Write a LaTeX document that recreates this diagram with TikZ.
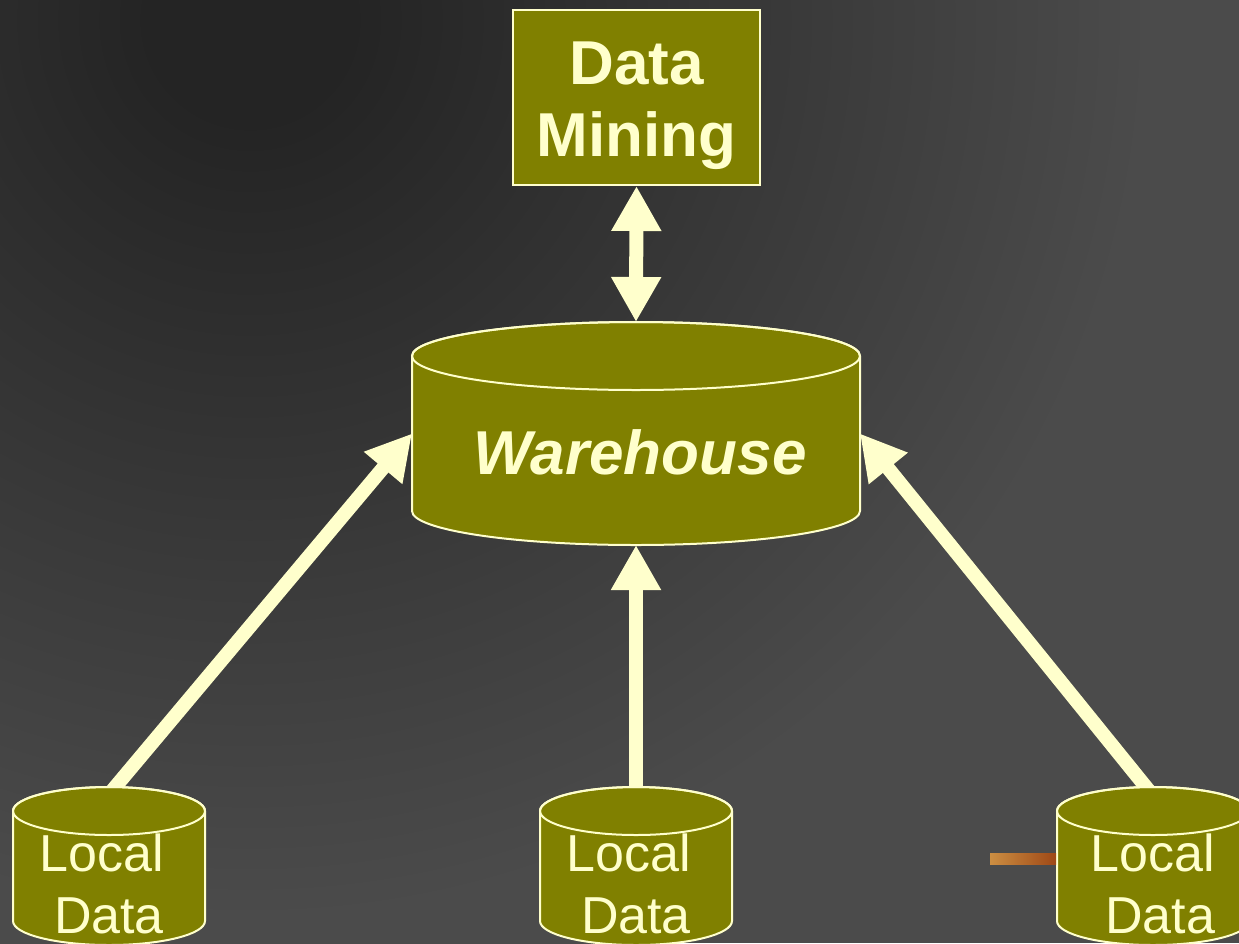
\documentclass[tikz,border=0pt]{standalone}
\usepackage{fontspec}
\setmainfont{Liberation Sans}
\usetikzlibrary{arrows.meta}
\definecolor{olivebox}{HTML}{808000}
\definecolor{paleyellow}{HTML}{FFFFCC}
\definecolor{bgdark}{HTML}{242424}
\definecolor{bglight}{HTML}{4B4B4B}
\definecolor{barlight}{RGB}{204,142,66}
\definecolor{bardark}{RGB}{158,72,22}
\pgfdeclareradialshading{bgglow}{\pgfpoint{0bp}{0bp}}{color(0bp)=(bgdark); color(2.5bp)=(bgdark); color(22.5bp)=(bglight); color(25bp)=(bglight); color(50bp)=(bglight)}
\tikzset{
  boxstyle/.style={draw=paleyellow, line width=2pt, fill=olivebox, inner sep=0pt},
  cylstyle/.style={draw=paleyellow, line width=2pt, fill=olivebox},
  hitbox/.style={inner sep=0pt, outer sep=0pt},
  bigarrow/.style={draw=paleyellow, line width=14pt, -{Triangle[width=47pt,length=45pt]}},
  labeltext/.style={text=paleyellow, align=center, inner sep=0pt}
}
% cylinder: (centre x, top centre y)(x radius : y radius : body height)
\def\drawcyl(#1,#2)(#3:#4:#5){\filldraw[cylstyle] (#1-#3,#2) -- ++(0,#5) arc[start angle=180,end angle=0,x radius=#3,y radius=#4] -- ++(0,-#5) arc[start angle=0,end angle=-180,x radius=#3,y radius=#4] -- cycle;
  \draw[cylstyle,fill=none] (#1,#2) ellipse[x radius=#3,y radius=#4];}

\begin{document}
\begin{tikzpicture}[x=1pt,y=-1pt]
  \useasboundingbox (0,0) rectangle (1239,943);
  \clip (0,0) rectangle (1239,943);
  %%%%% BACKGROUND %%%%%
  \fill[bglight] (0,0) rectangle (1239,943);
  \shade[shading=bgglow] (250,20) circle (1000);

  %%%%% DATA MINING %%%%%
  \node[boxstyle, minimum width=247pt, minimum height=175pt] (dm) at (636.5,97.5) {};
  \node[labeltext, font=\bfseries\fontsize{62}{72}\selectfont] (dmlabel) at (636.5,106) {Data\\Mining};

  %%%%% WAREHOUSE %%%%%
  \drawcyl(636,356)(224:34:155)
  \node[hitbox, minimum width=448pt, minimum height=223pt] (wh) at (636,433.5) {};
  \node[labeltext, font=\bfseries\itshape\fontsize{62}{72}\selectfont] (whlabel) at (640,452) {Warehouse};

  %%%%% ARROWS %%%%%
  \coordinate (ld1top) at (111,792);
  \coordinate (ld2top) at (636,792);
  \coordinate (ld3top) at (1150,792);
  \draw[bigarrow] (ld1top) -- (wh.west);
  \draw[bigarrow] (ld2top) -- (wh.south);
  \draw[bigarrow] (ld3top) -- (wh.east);
  \draw[bigarrow, {Triangle[width=47pt,length=45pt]}-{Triangle[width=47pt,length=45pt]}] (wh.north) -- (dm.south);

  %%%%% LOCAL DATA %%%%%
  \drawcyl(109,811)(96:24:110)
  \drawcyl(636,811)(96:24:110)
  \drawcyl(1153,811)(96:24:110)
  \node[labeltext, font=\fontsize{52}{62}\selectfont] (ld1) at (109,884) {Local\kern14pt\\Data};
  \node[labeltext, font=\fontsize{52}{62}\selectfont] (ld2) at (636,884) {Local\kern14pt\\Data};
  \node[labeltext, font=\fontsize{52}{62}\selectfont] (ld3) at (1160,884) {Local\kern14pt\\Data};

  \shade[left color=barlight, right color=bardark] (990,853) rectangle (1056,864);
\end{tikzpicture}
\end{document}
